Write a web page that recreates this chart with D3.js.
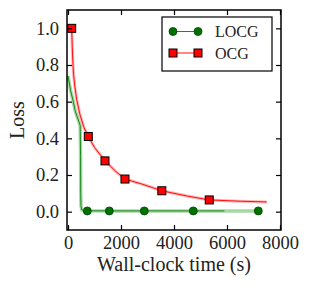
<html>
<head>
  <script src='https://d3js.org/d3.v7.min.js'></script>
  <style type="text/css">
    body { margin: 0; background: #fff; }
    text { font-family: "Liberation Serif", "Times New Roman", serif; fill: #222; }
    .frame { fill: none; stroke: #000; stroke-width: 1.5; }
    .tick line { stroke: #000; stroke-width: 1.2; }
  </style>
</head>
<body>
<script>
// values
var xTicks = [0, 2000, 4000, 6000, 8000];
var yTicks = [0.0, 0.2, 0.4, 0.6, 0.8, 1.0];

var ocgTime = [140, 160, 185, 210, 260, 330, 450, 600, 766, 1000, 1400, 1800, 2150, 2800, 3540, 4500, 5330, 6500, 7500];
var ocgLoss = [1.0, 0.9, 0.81, 0.75, 0.68, 0.61, 0.53, 0.46, 0.41, 0.35, 0.277, 0.22, 0.178, 0.15, 0.114, 0.085, 0.064, 0.057, 0.053];
var ocgMarkTime = [140, 766, 1396, 2150, 3540, 5330];
var ocgMarkLoss = [1.0, 0.41, 0.277, 0.178, 0.114, 0.064];

var locgTime = [0, 100, 200, 270, 390, 460, 475, 480, 490, 520, 600, 1500, 3000, 5000, 7180];
var locgLoss = [0.74, 0.66, 0.6, 0.55, 0.5, 0.47, 0.3, 0.1, 0.03, 0.01, 0.005, 0.004, 0.004, 0.004, 0.004];
var locgSmoothEnd = 5900;
var locgMarkTime = [728, 1558, 2879, 4728, 7181];
var locgMarkLoss = [0.004, 0.004, 0.004, 0.004, 0.004];

var width = 312, height = 291;
var mLeft = 67, mRight = 281, mTop = 10, mBottom = 230;

var svg = d3.select("body").append("svg")
    .attr("width", width)
    .attr("height", height);

svg.append("rect").attr("width", width).attr("height", height).attr("fill", "#fff");

var x = d3.scaleLinear().domain([0, 8000]).range([68, 280]);
var y = d3.scaleLinear().domain([-0.1, 1.1]).range([mBottom, mTop]);

var line = d3.line()
    .x(function(d) { return x(d[0]); })
    .y(function(d) { return y(d[1]); });

var plot = svg.append("g");

// pale wide lines
var locgPts = d3.zip(locgTime, locgLoss);
var ocgPts = d3.zip(ocgTime, ocgLoss);

plot.append("path").datum(locgPts).attr("d", line)
    .attr("fill", "none").attr("stroke", "#a6d8a6").attr("stroke-width", 3.5);
plot.append("path").datum(ocgPts).attr("d", line)
    .attr("fill", "none").attr("stroke", "#ffb4b4").attr("stroke-width", 3);

// thin lines
plot.append("path").datum(locgPts.filter(function(d) { return d[0] <= locgSmoothEnd; }).concat([[locgSmoothEnd, 0.004]]))
    .attr("d", line)
    .attr("fill", "none").attr("stroke", "#1a8a1a").attr("stroke-width", 1);
plot.append("path").datum(ocgPts).attr("d", line)
    .attr("fill", "none").attr("stroke", "#ff1010").attr("stroke-width", 1);

// markers
plot.selectAll(".gdot").data(d3.zip(locgMarkTime, locgMarkLoss)).enter()
  .append("circle")
    .attr("cx", function(d) { return x(d[0]); })
    .attr("cy", function(d) { return y(d[1]); })
    .attr("r", 4)
    .attr("fill", "#007000")
    .attr("stroke", "#004a00")
    .attr("stroke-width", 0.8);

plot.selectAll(".rsq").data(d3.zip(ocgMarkTime, ocgMarkLoss)).enter()
  .append("rect")
    .attr("x", function(d) { return x(d[0]) - 4; })
    .attr("y", function(d) { return y(d[1]) - 4; })
    .attr("width", 8)
    .attr("height", 8)
    .attr("fill", "#ff0000")
    .attr("stroke", "#000")
    .attr("stroke-width", 1);

// axes, ticks inward on all sides
svg.append("g").attr("transform", "translate(0," + mBottom + ")")
    .call(d3.axisBottom(x).tickValues(xTicks).tickSizeInner(-5).tickSizeOuter(0).tickPadding(6).tickFormat(d3.format("d")));
svg.append("g").attr("transform", "translate(0," + mTop + ")")
    .call(d3.axisTop(x).tickValues(xTicks).tickSizeInner(-5).tickSizeOuter(0).tickFormat(""));
svg.append("g").attr("transform", "translate(" + mLeft + ",0)")
    .call(d3.axisLeft(y).tickValues(yTicks).tickSizeInner(-5).tickSizeOuter(0).tickPadding(8).tickFormat(d3.format(".1f")));
svg.append("g").attr("transform", "translate(" + mRight + ",0)")
    .call(d3.axisRight(y).tickValues(yTicks).tickSizeInner(-5).tickSizeOuter(0).tickFormat(""));

svg.selectAll(".domain").remove();
svg.selectAll(".tick text").attr("font-size", 18.5).attr("font-family", "Liberation Serif").attr("fill", "#222");

svg.append("rect").attr("class", "frame")
    .attr("x", mLeft).attr("y", mTop)
    .attr("width", mRight - mLeft).attr("height", mBottom - mTop);

// axis labels
svg.append("text")
    .attr("x", (mLeft + mRight) / 2)
    .attr("y", 271)
    .attr("text-anchor", "middle")
    .attr("font-size", 20)
    .text("Wall-clock time (s)");

svg.append("text")
    .attr("transform", "translate(24," + (mTop + mBottom) / 2 + ") rotate(-90)")
    .attr("text-anchor", "middle")
    .attr("font-size", 20)
    .text("Loss");

// legend
var legend = svg.append("g");
legend.append("rect")
    .attr("x", 162).attr("y", 17).attr("width", 110).attr("height", 54)
    .attr("fill", "#fff").attr("stroke", "#000").attr("stroke-width", 1.2);

var legItems = [
  { name: "LOCG", color: "#007000", shape: "circle", line: "#1a8a1a" },
  { name: "OCG", color: "#ff0000", shape: "square", line: "#ff1010" }
];

legItems.forEach(function(d, i) {
  var ly = 31.5 + i * 21.5;
  legend.append("line")
    .attr("x1", 173).attr("x2", 198).attr("y1", ly).attr("y2", ly)
    .attr("stroke", d.line).attr("stroke-width", 1);
  [173, 198].forEach(function(mx) {
    if (d.shape === "circle") {
      legend.append("circle").attr("cx", mx).attr("cy", ly).attr("r", 4)
        .attr("fill", d.color).attr("stroke", "#004a00").attr("stroke-width", 0.8);
    } else {
      legend.append("rect").attr("x", mx - 4).attr("y", ly - 4).attr("width", 8).attr("height", 8)
        .attr("fill", d.color).attr("stroke", "#000").attr("stroke-width", 1);
    }
  });
  legend.append("text")
    .attr("x", 215).attr("y", ly + 5.5)
    .attr("font-size", 16)
    .text(d.name);
});
</script>
</body>
</html>
